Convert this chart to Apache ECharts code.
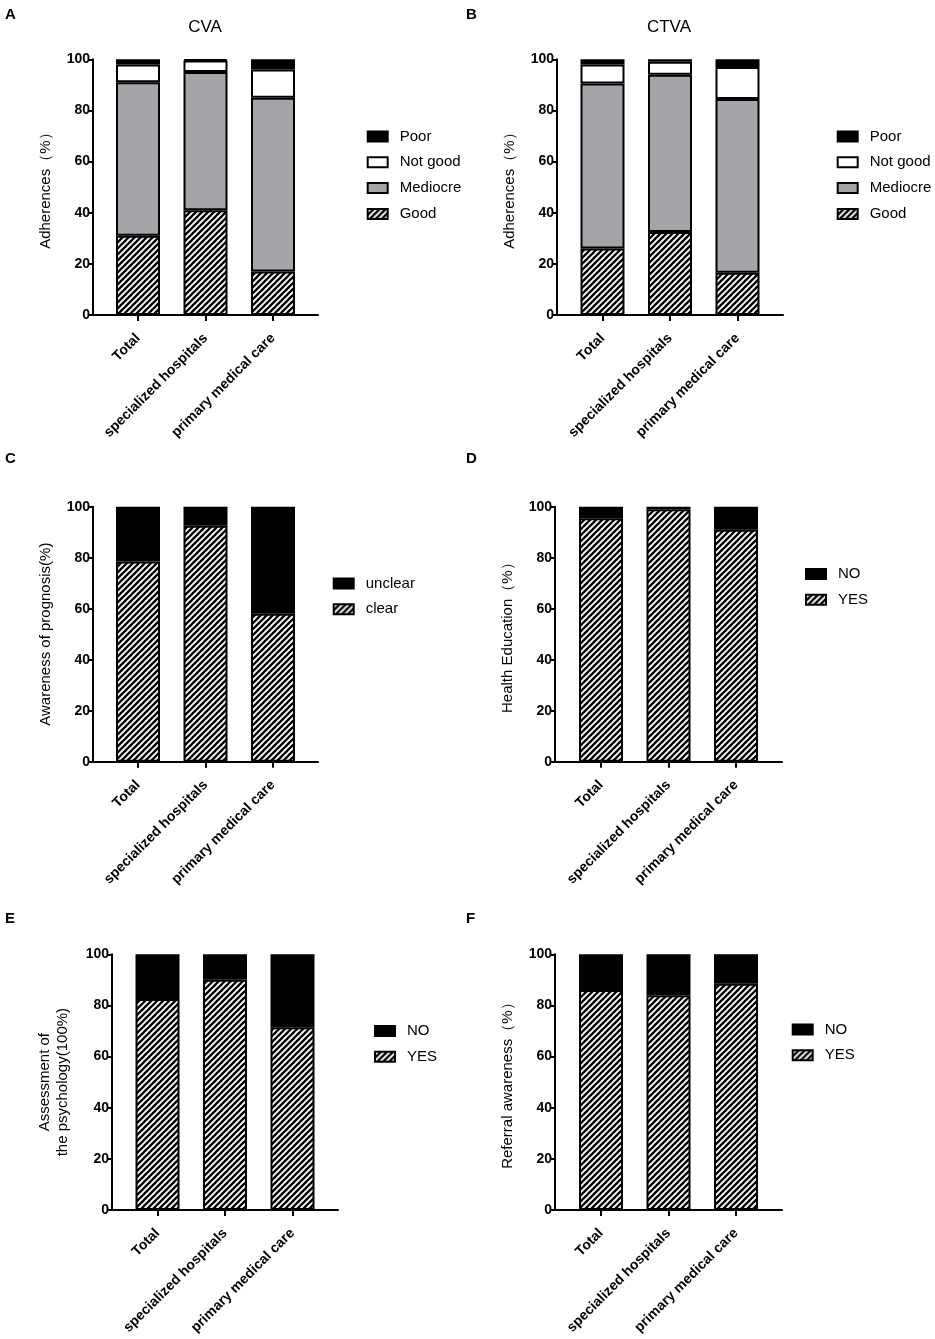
<!DOCTYPE html>
<html>
<head>
<meta charset="utf-8">
<script src="https://cdn.jsdelivr.net/npm/echarts@6/dist/echarts.min.js"></script>
<style>
  html, body { margin: 0; padding: 0; background: #fff; }
  #chart { width: 935px; height: 1339px; }
</style>
</head>
<body>
<div id="chart"></div>
<script>
// categories shared by all six panels
var categories = ['Total', 'specialized hospitals', 'primary medical care'];

// A - CVA adherence (%)
var cvaGood = [31, 41, 17];
var cvaMediocre = [60, 54, 68];
var cvaNotGood = [7, 4.5, 11];
var cvaPoor = [2, 0.5, 4];

// B - CTVA adherence (%)
var ctvaGood = [26, 32.5, 16.5];
var ctvaMediocre = [64.5, 61.5, 68];
var ctvaNotGood = [7.5, 5, 12.5];
var ctvaPoor = [2, 1, 3];

// C - awareness of prognosis (%)
var prognosisClear = [78.5, 92.5, 58];
var prognosisUnclear = [21.5, 7.5, 42];

// D - health education (%)
var eduYes = [95.5, 99, 91];
var eduNo = [4.5, 1, 9];

// E - assessment of the psychology (%)
var psyYes = [82.5, 90, 71.5];
var psyNo = [17.5, 10, 28.5];

// F - referral awareness (%)
var refYes = [86, 84, 88.5];
var refNo = [14, 16, 11.5];

var FONT = 'Arial, "Liberation Sans", sans-serif';
var GRAY = '#a5a5a9';
var BAND = 202.5;   // 3 categories x 67.5px

function hatch() {
    var c = document.createElement('canvas');
    c.width = 6;
    c.height = 6;
    var ctx = c.getContext('2d');
    ctx.fillStyle = '#fff';
    ctx.fillRect(0, 0, 6, 6);
    ctx.strokeStyle = '#000';
    ctx.lineWidth = 2.3;
    ctx.beginPath();
    ctx.moveTo(0, 6); ctx.lineTo(6, 0);
    ctx.moveTo(-3, 3); ctx.lineTo(3, -3);
    ctx.moveTo(3, 9); ctx.lineTo(9, 3);
    ctx.stroke();
    return { image: c, repeat: 'repeat' };
}
var HATCH = hatch();

var panels = [
    {
        box: { left: 93, top: 59.3, width: 225, height: 255.7 },
        yName: 'Adherences（%）', nameGap: 38,
        legend: { left: 366.7, top: 129 },
        series: [
            { name: 'Good', data: cvaGood, fill: HATCH },
            { name: 'Mediocre', data: cvaMediocre, fill: GRAY },
            { name: 'Not good', data: cvaNotGood, fill: '#fff' },
            { name: 'Poor', data: cvaPoor, fill: '#000' }
        ]
    },
    {
        box: { left: 557, top: 59.3, width: 226, height: 255.7 },
        yName: 'Adherences（%）', nameGap: 38,
        legend: { left: 836.7, top: 129 },
        series: [
            { name: 'Good', data: ctvaGood, fill: HATCH },
            { name: 'Mediocre', data: ctvaMediocre, fill: GRAY },
            { name: 'Not good', data: ctvaNotGood, fill: '#fff' },
            { name: 'Poor', data: ctvaPoor, fill: '#000' }
        ]
    },
    {
        box: { left: 93, top: 506.7, width: 225, height: 255 },
        yName: 'Awareness of prognosis(%)', nameGap: 38,
        legend: { left: 332.7, top: 576 },
        series: [
            { name: 'clear', data: prognosisClear, fill: HATCH },
            { name: 'unclear', data: prognosisUnclear, fill: '#000' }
        ]
    },
    {
        box: { left: 555, top: 506.7, width: 227, height: 255 },
        yName: 'Health Education（%）', nameGap: 38,
        legend: { left: 805, top: 566.5 },
        series: [
            { name: 'YES', data: eduYes, fill: HATCH },
            { name: 'NO', data: eduNo, fill: '#000' }
        ]
    },
    {
        box: { left: 112, top: 954.3, width: 226, height: 255.7 },
        yName: 'Assessment of\nthe psychology(100%)', nameGap: 40,
        legend: { left: 374, top: 1023.5 },
        series: [
            { name: 'YES', data: psyYes, fill: HATCH },
            { name: 'NO', data: psyNo, fill: '#000' }
        ]
    },
    {
        box: { left: 555, top: 954.3, width: 227, height: 255.7 },
        yName: 'Referral awareness（%）', nameGap: 38,
        legend: { left: 791.7, top: 1022 },
        series: [
            { name: 'YES', data: refYes, fill: HATCH },
            { name: 'NO', data: refNo, fill: '#000' }
        ]
    }
];

var grids = [], xAxes = [], yAxes = [], legends = [], series = [];

panels.forEach(function (p, i) {
    var b = p.box;
    var off = (b.width - BAND) / 2;
    var frame = grids.length;       // full-width grid: y axis + x axis line
    var bars = frame + 1;           // inset grid: category bands for the bars

    grids.push({ left: b.left, top: b.top, width: b.width, height: b.height });
    grids.push({ left: b.left + off, top: b.top, width: BAND, height: b.height });

    xAxes.push({
        type: 'value', gridIndex: frame, min: 0, max: 1,
        splitLine: { show: false },
        axisLine: { show: true, onZero: false, lineStyle: { color: '#000', width: 2 } },
        axisTick: { show: false },
        axisLabel: { show: false }
    });
    yAxes.push({
        type: 'value', gridIndex: frame, min: 0, max: 100, interval: 20,
        name: p.yName, nameLocation: 'middle', nameGap: p.nameGap,
        nameTextStyle: { color: '#000', fontFamily: FONT, fontSize: 15, lineHeight: 18 },
        splitLine: { show: false },
        axisLine: { show: true, onZero: false, lineStyle: { color: '#000', width: 2 } },
        axisTick: { show: true, length: 5, lineStyle: { color: '#000', width: 2 } },
        axisLabel: { color: '#000', fontFamily: FONT, fontSize: 14, fontWeight: 'bold', margin: 3 }
    });

    xAxes.push({
        type: 'category', gridIndex: bars, data: categories,
        axisLine: { show: false },
        axisTick: { show: true, alignWithLabel: true, length: 6, lineStyle: { color: '#000', width: 2 } },
        axisLabel: {
            rotate: 45, margin: 21, interval: 0,
            color: '#000', fontFamily: FONT, fontSize: 14, fontWeight: 'bold'
        }
    });
    yAxes.push({ type: 'value', gridIndex: bars, min: 0, max: 100, show: false });

    legends.push({
        orient: 'vertical', left: p.legend.left, top: p.legend.top, padding: 0,
        itemWidth: 20, itemHeight: 10, itemGap: 10.8,
        icon: 'rect',
        data: p.series.map(function (s) { return s.name; }).reverse(),
        textStyle: { color: '#000', fontFamily: FONT, fontSize: 15, padding: [0, 0, 0, 7] },
        selectedMode: false
    });

    p.series.forEach(function (s) {
        series.push({
            type: 'bar', name: s.name, stack: 'p' + i,
            xAxisIndex: i * 2 + 1, yAxisIndex: i * 2 + 1,
            barWidth: 44,
            data: s.data,
            itemStyle: { color: s.fill, borderColor: '#000', borderWidth: 2 },
            emphasis: { disabled: true }
        });
    });
});

var letters = [['A', 5, 7], ['B', 466, 7], ['C', 5, 451], ['D', 466, 451], ['E', 5, 911], ['F', 466, 911]];
var titles = letters.map(function (l) {
    return { text: l[0], left: l[1], top: l[2], padding: 0,
        textStyle: { color: '#000', fontFamily: FONT, fontSize: 15, fontWeight: 'bold' } };
});
titles.push({ text: 'CVA', left: 205, top: 19, padding: 0, textAlign: 'center',
    textStyle: { color: '#000', fontFamily: FONT, fontSize: 17, fontWeight: 'normal' } });
titles.push({ text: 'CTVA', left: 669, top: 19, padding: 0, textAlign: 'center',
    textStyle: { color: '#000', fontFamily: FONT, fontSize: 17, fontWeight: 'normal' } });

var chart = echarts.init(document.getElementById('chart'));
chart.setOption({
    backgroundColor: '#fff',
    animation: false,
    title: titles,
    grid: grids,
    xAxis: xAxes,
    yAxis: yAxes,
    legend: legends,
    series: series
});
</script>
</body>
</html>
